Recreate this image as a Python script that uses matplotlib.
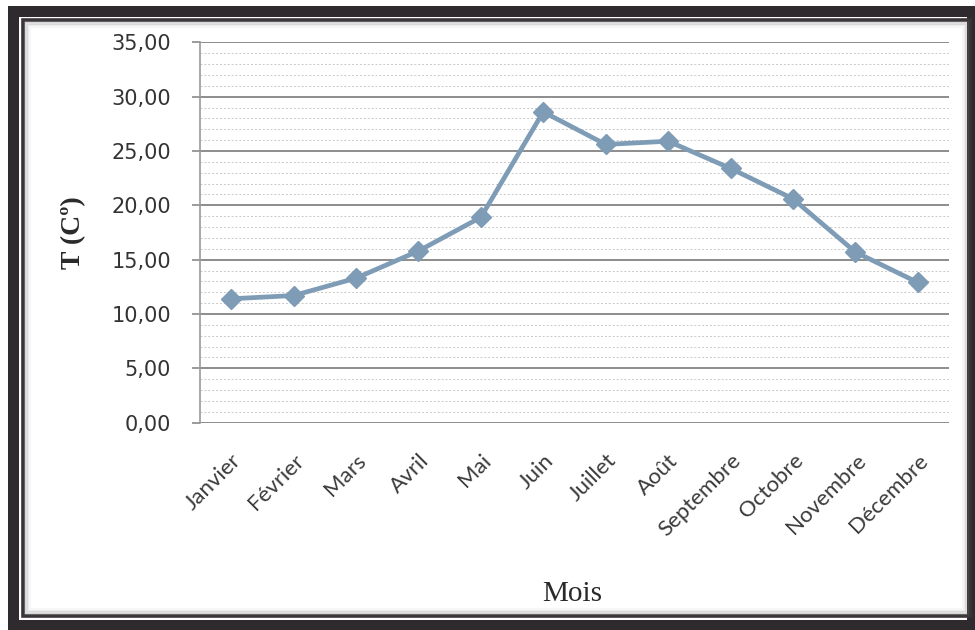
import matplotlib
matplotlib.use("Agg")
import matplotlib.pyplot as plt
from matplotlib.patches import Rectangle
from matplotlib.ticker import MultipleLocator

# Monthly mean temperature
months = ["Janvier", "Février", "Mars", "Avril", "Mai", "Juin", "Juillet",
          "Août", "Septembre", "Octobre", "Novembre", "Décembre"]
temperature = [11.4, 11.7, 13.3, 15.8, 18.9, 28.6, 25.6, 25.9, 23.4, 20.6, 15.7, 12.9]
y_ticks = [0, 5, 10, 15, 20, 25, 30, 35]
y_tick_labels = [f"{v:.2f}".replace(".", ",") for v in y_ticks]

W, H = 975, 630
fig = plt.figure(figsize=(W / 100, H / 100), dpi=100)
fig.patch.set_facecolor("white")


def px_rect(x0, y0, x1, y1, **kw):
    """Rectangle given in pixel coordinates measured from the top-left corner."""
    return Rectangle((x0 / W, 1 - y1 / H), (x1 - x0) / W, (y1 - y0) / H,
                     transform=fig.transFigure, **kw)


# Double frame around the chart
fig.patches.append(px_rect(8, 6, W + 5, H + 5, facecolor="#2e2a2d", edgecolor="none", zorder=-5))
fig.patches.append(px_rect(19, 17, 967, 620, facecolor="white", edgecolor="none", zorder=-4))
fig.patches.append(px_rect(23, 20, 970, 616, facecolor="none", edgecolor="#3a3538",
                           linewidth=2.6, zorder=-3))
# soft inner shadow
for i, a in enumerate([0.28, 0.18, 0.10, 0.05]):
    o = 25 + i * 1.6
    fig.patches.append(px_rect(o, o - 3, 968 - i * 1.6, 614 - i * 1.6, facecolor="none",
                               edgecolor=(0.45, 0.45, 0.45, a), linewidth=1.6, zorder=-2))

ax = fig.add_axes([200 / W, 1 - 422.7 / H, 749 / W, (422.7 - 42.3) / H])
ax.set_zorder(2)
ax.set_facecolor("none")

x = list(range(len(months)))
ax.plot(x, temperature, color="#7f9cb7", linewidth=3.4, marker="D", markersize=10,
        markerfacecolor="#7f9cb7", markeredgecolor="#7f9cb7", zorder=3,
        solid_joinstyle="round")

ax.set_xlim(-0.5, len(months) - 0.5)
ax.set_ylim(0, 35)

ax.set_yticks(y_ticks)
ax.set_yticklabels(y_tick_labels, fontsize=15, color="#333333", family="DejaVu Sans")
ax.yaxis.set_minor_locator(MultipleLocator(1))
ax.tick_params(axis="y", which="major", length=6, width=1.2, color="#8a8a8a", pad=15)
ax.tick_params(axis="y", which="minor", length=0)

ax.set_xticks(x)
ax.set_xticklabels(months, rotation=45, ha="right", rotation_mode="anchor",
                   fontsize=16, color="#3a3a3a", family="Lato")
ax.tick_params(axis="x", length=0, pad=20)

ax.grid(axis="y", which="major", color="#8c8c8c", linewidth=1.4)
ax.grid(axis="y", which="minor", color="#c8c8c8", linewidth=0.7, linestyle=(0, (2, 2)))
ax.set_axisbelow(True)

for s in ["top", "right", "bottom"]:
    ax.spines[s].set_visible(False)
ax.spines["left"].set_color("#9a9a9a")
ax.spines["left"].set_linewidth(1.2)

ax.set_ylabel("T (Cº)", fontsize=20, family="Liberation Serif", fontweight="bold",
              color="#2a2a2a", labelpad=18)
fig.text(572 / W, 1 - 594 / H, "Mois", fontsize=21, family="Liberation Serif",
         color="#2a2a2a", ha="center", va="center")

fig.savefig("out.png", dpi=100)
